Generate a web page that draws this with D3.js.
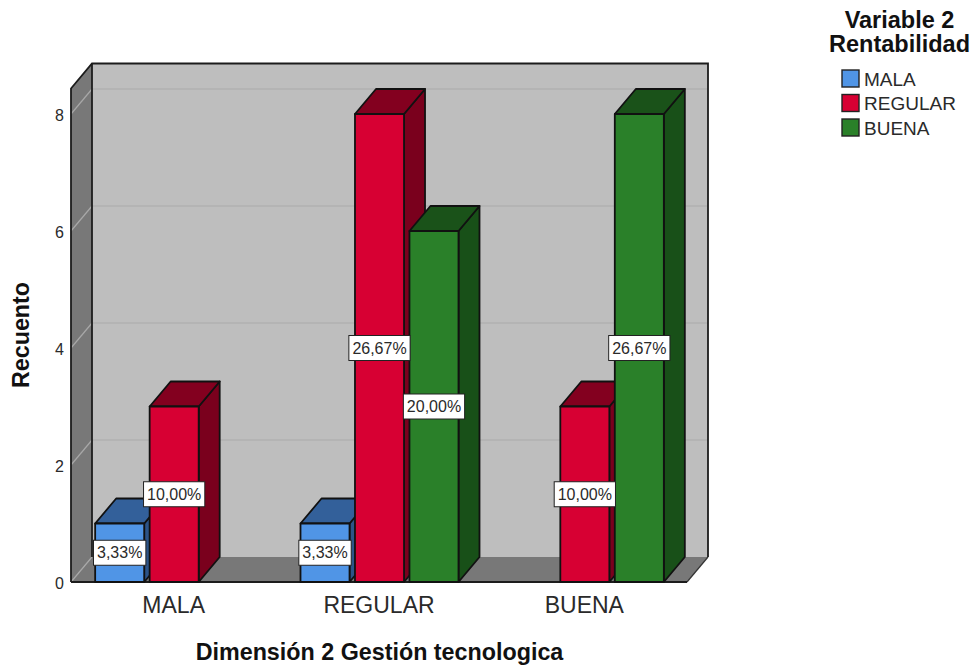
<!DOCTYPE html>
<html lang="es">
<head>
<meta charset="UTF-8">
<title>Dimensión 2 Gestión tecnologica</title>
<script src="https://d3js.org/d3.v7.min.js"></script>
<style>
    body { margin: 0; background: #fff; }
    svg { display: block; }
    text { font-family: "Liberation Sans", Arial, sans-serif; fill: #2a2a2a; }
    .title { font-weight: bold; fill: #111; }
    .axis path, .axis line { display: none; }
</style>
</head>
<body>
<script>
    // Data
    const categories = ["MALA", "REGULAR", "BUENA"];
    const seriesNames = ["MALA", "REGULAR", "BUENA"];
    const malaValues = [1, 1, 0];
    const regularValues = [3, 8, 3];
    const buenaValues = [0, 6, 8];
    const yTicks = [0, 2, 4, 6, 8];
    const total = 30;

    const frontColors = ["#5095e6", "#d70033", "#2a8029"];
    const topColors = ["#33609a", "#83001f", "#1a5219"];
    const sideColors = ["#2c5488", "#7a001d", "#185018"];

    const width = 973, height = 668;
    const svg = d3.select("body").append("svg").attr("width", width).attr("height", height);

    // 3d depth of the box
    const dx = 21, dy = -25;

    const x0 = d3.scaleBand().domain(categories).range([71, 687]);
    const x1 = d3.scaleBand().domain(seriesNames)
        .range([x0.bandwidth() / 2 - 78.5, x0.bandwidth() / 2 + 79.5]).paddingInner(0.1);
    const y = d3.scaleLinear().domain([0, 8]).range([582, 114]);

    const left = x0.range()[0], right = x0.range()[1];
    const yBase = y(0), yTop = 88.5;

    const poly = pts => pts.map(p => p.join(",")).join(" ");

    // back wall
    svg.append("polygon")
        .attr("points", poly([[left + dx, yTop + dy], [right + dx, yTop + dy], [right + dx, yBase + dy], [left + dx, yBase + dy]]))
        .attr("fill", "#bebebe");

    // floor
    svg.append("polygon")
        .attr("points", poly([[left, yBase], [right, yBase], [right + dx, yBase + dy], [left + dx, yBase + dy]]))
        .attr("fill", "#787878");

    // left wall
    svg.append("polygon")
        .attr("points", poly([[left, yBase], [left, yTop], [left + dx, yTop + dy], [left + dx, yBase + dy]]))
        .attr("fill", "#787878");

    // gridlines on the back wall and left wall
    svg.selectAll(".grid").data(yTicks.filter(d => d > 0)).enter().append("line")
        .attr("x1", left + dx).attr("x2", right + dx)
        .attr("y1", d => y(d) + dy).attr("y2", d => y(d) + dy)
        .attr("stroke", "#b0b0b0").attr("stroke-width", 1.5);
    svg.selectAll(".gridSide").data(yTicks).enter().append("line")
        .attr("x1", left).attr("x2", left + dx)
        .attr("y1", d => y(d)).attr("y2", d => y(d) + dy)
        .attr("stroke", "#a8a8a8").attr("stroke-width", 1.2);

    // box outline
    svg.append("path")
        .attr("d", `M${left},${yBase}V${yTop}L${left + dx},${yTop + dy}H${right + dx}V${yBase + dy}`)
        .attr("fill", "none").attr("stroke", "#1c1c1c").attr("stroke-width", 1.8);
    svg.append("line")
        .attr("x1", left + dx).attr("x2", left + dx).attr("y1", yTop + dy).attr("y2", yBase + dy)
        .attr("stroke", "#1c1c1c").attr("stroke-width", 1.8);
    svg.append("line")
        .attr("x1", right).attr("x2", right + dx).attr("y1", yBase).attr("y2", yBase + dy)
        .attr("stroke", "#333").attr("stroke-width", 1.2);
    svg.append("line")
        .attr("x1", left).attr("x2", right).attr("y1", yBase).attr("y2", yBase)
        .attr("stroke", "#1c1c1c").attr("stroke-width", 1.8);

    // flatten into one list of bars, left to right so later fronts cover earlier sides
    const seriesValues = [malaValues, regularValues, buenaValues];
    const bars = [];
    categories.forEach((c, i) => {
        seriesNames.forEach((s, j) => {
            if (seriesValues[j][i] > 0) bars.push({ cat: c, series: s, idx: j, value: seriesValues[j][i] });
        });
    });

    const bar = svg.selectAll(".bar").data(bars).enter().append("g").attr("class", "bar")
        .attr("stroke", "#111").attr("stroke-width", 1.8).attr("stroke-linejoin", "round");

    const bx = d => x0(d.cat) + x1(d.series);

    bar.append("polygon") // side
        .attr("fill", d => sideColors[d.idx])
        .attr("points", d => {
            const r = bx(d) + x1.bandwidth();
            return poly([[r, y(d.value)], [r + dx, y(d.value) + dy], [r + dx, yBase + dy], [r, yBase]]);
        });
    bar.append("polygon") // top
        .attr("fill", d => topColors[d.idx])
        .attr("points", d => {
            const l = bx(d), r = l + x1.bandwidth(), t = y(d.value);
            return poly([[l, t], [l + dx, t + dy], [r + dx, t + dy], [r, t]]);
        });
    bar.append("rect") // front
        .attr("fill", d => frontColors[d.idx])
        .attr("x", bx)
        .attr("y", d => y(d.value))
        .attr("width", x1.bandwidth())
        .attr("height", d => yBase - y(d.value));

    // percent labels on top of all the bars, box sized from the text
    const pct = d3.format(".2f");
    const label = svg.selectAll(".pct").data(bars).enter().append("g")
        .attr("class", "pct")
        .attr("transform", d => `translate(${bx(d) + x1.bandwidth() / 2},${y(d.value / 2)})`);
    const labelRect = label.append("rect");
    label.append("text")
        .attr("text-anchor", "middle").attr("dy", 5.5)
        .attr("font-size", 16).attr("fill", "#222")
        .text(d => pct(d.value / total * 100).replace(".", ",") + "%");
    labelRect.each(function () {
        const w = this.parentNode.querySelector("text").getComputedTextLength() + 7;
        d3.select(this)
            .attr("x", -w / 2).attr("y", -12.5).attr("width", w).attr("height", 25)
            .attr("fill", "#fff").attr("stroke", "#222").attr("stroke-width", 1);
    });

    // axes
    const yAxis = svg.append("g").attr("class", "axis")
        .attr("transform", `translate(${left},0)`)
        .call(d3.axisLeft(y).tickValues(yTicks).tickSize(0).tickPadding(7).tickFormat(d3.format("d")));
    yAxis.selectAll("text").attr("font-size", 16).attr("dy", "0.42em");

    const xAxis = svg.append("g").attr("class", "axis")
        .attr("transform", `translate(0,${yBase})`)
        .call(d3.axisBottom(x0).tickSize(0).tickPadding(15));
    xAxis.selectAll("text").attr("font-size", 23);

    svg.append("text").attr("class", "title")
        .attr("x", 379.5).attr("y", 660).attr("text-anchor", "middle")
        .attr("font-size", 23.3)
        .text("Dimensión 2 Gestión tecnologica");

    svg.append("text").attr("class", "title")
        .attr("transform", "translate(29,335) rotate(-90)")
        .attr("text-anchor", "middle").attr("font-size", 23.3)
        .text("Recuento");

    // legend
    const legendTitle = ["Variable 2", "Rentabilidad"];
    svg.selectAll(".legendTitle").data(legendTitle).enter().append("text")
        .attr("class", "title")
        .attr("x", 899.5).attr("y", (d, i) => 28 + i * 24)
        .attr("text-anchor", "middle").attr("font-size", 23.5)
        .text(d => d);

    const legendY = d3.scalePoint().domain(seriesNames).range([78.5, 127.5]);
    const legend = svg.selectAll(".legend").data(seriesNames).enter().append("g")
        .attr("transform", d => `translate(841.5,${legendY(d)})`);
    legend.append("rect")
        .attr("x", 0.5).attr("y", -8.5).attr("width", 17).attr("height", 17)
        .attr("fill", (d, i) => frontColors[i]).attr("stroke", "#222").attr("stroke-width", 1.4);
    legend.append("text")
        .attr("x", 22.5).attr("dy", 7.2).attr("font-size", 19)
        .text(d => d);
</script>
</body>
</html>
